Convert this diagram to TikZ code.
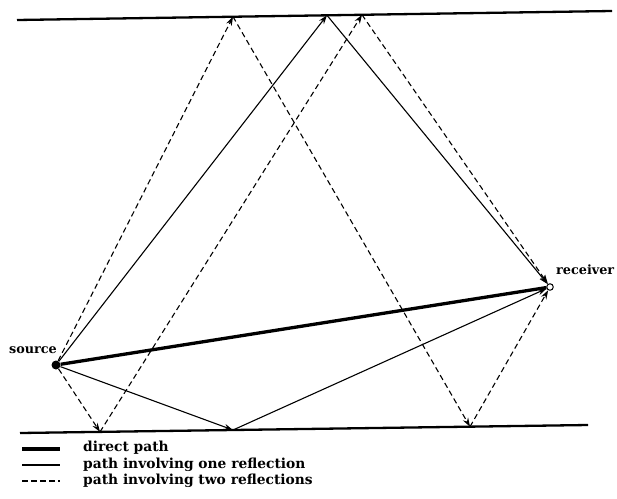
\documentclass[tikz,border=0pt]{standalone}
\usepackage{fontspec}
\setmainfont{DejaVu Serif}
\usetikzlibrary{arrows.meta}
\begin{document}
\begin{tikzpicture}[x=1pt,y=-1pt,
  wall/.style={line width=2.3pt},
  direct/.style={line width=3.3pt},
  onepath/.style={line width=1.1pt},
  twopath/.style={line width=1.1pt,dash pattern=on 5.5pt off 3.5pt},
  tip/.style={-{Stealth[length=9pt,width=6pt,inset=3pt]}},
  lbl/.style={font=\bfseries\fontsize{12.8}{15}\selectfont,inner sep=0pt},
  legtext/.style={font=\bfseries\fontsize{13.8}{15}\selectfont,inner sep=0pt,anchor=west}]
\useasboundingbox (0,0) rectangle (617,498);
% walls
\coordinate (tl) at (17,20); \coordinate (tr) at (612,11);
\coordinate (bl) at (20,433); \coordinate (br) at (588,425);
\draw[wall] (tl) -- (tr);
\draw[wall] (bl) -- (br);
% reflection points
\coordinate (t1) at (233,16.7);
\coordinate (t2) at (327,15.3);
\coordinate (t3) at (362,14.8);
\coordinate (b1) at (100,431.9);
\coordinate (b2) at (233,430);
\coordinate (b3) at (470,426.7);
% endpoints
\node[circle,fill=black,inner sep=0pt,minimum size=9pt] (src) at (56,365) {};
\node[circle,draw=black,fill=white,line width=1pt,inner sep=0pt,minimum size=6.5pt] (rcv) at (550,287) {};
\node[lbl,anchor=east] (srclbl) at (57,350) {source};
\node[lbl,anchor=west] (rcvlbl) at (556,270) {receiver};
% direct
\draw[direct] (src) -- (rcv);
% one reflection
\draw[onepath,tip] (src) -- (t2);
\draw[onepath,tip] (t2) -- (rcv);
\draw[onepath,tip] (src) -- (b2);
\draw[onepath,tip] (b2) -- (rcv);
% two reflections
\draw[twopath,tip] (src) -- (t1);
\draw[twopath,tip] (t1) -- (b3);
\draw[twopath,tip] (b3) -- (rcv);
\draw[twopath,tip] (src) -- (b1);
\draw[twopath,tip] (b1) -- (t3);
\draw[twopath,tip] (t3) -- (rcv);
% legend
\coordinate (l1a) at (22,449); \coordinate (l1b) at (60,449);
\coordinate (l2a) at (22,465); \coordinate (l2b) at (60,465);
\coordinate (l3a) at (22,481); \coordinate (l3b) at (60,481);
\draw[direct] (l1a) -- (l1b);
\draw[onepath] (l2a) -- (l2b);
\draw[twopath] (l3a) -- (l3b);
\node[legtext] (lt1) at (83,448) {direct path};
\node[legtext] (lt2) at (83,465) {path involving one reflection};
\node[legtext] (lt3) at (83,481) {path involving two reflections};
\end{tikzpicture}
\end{document}
